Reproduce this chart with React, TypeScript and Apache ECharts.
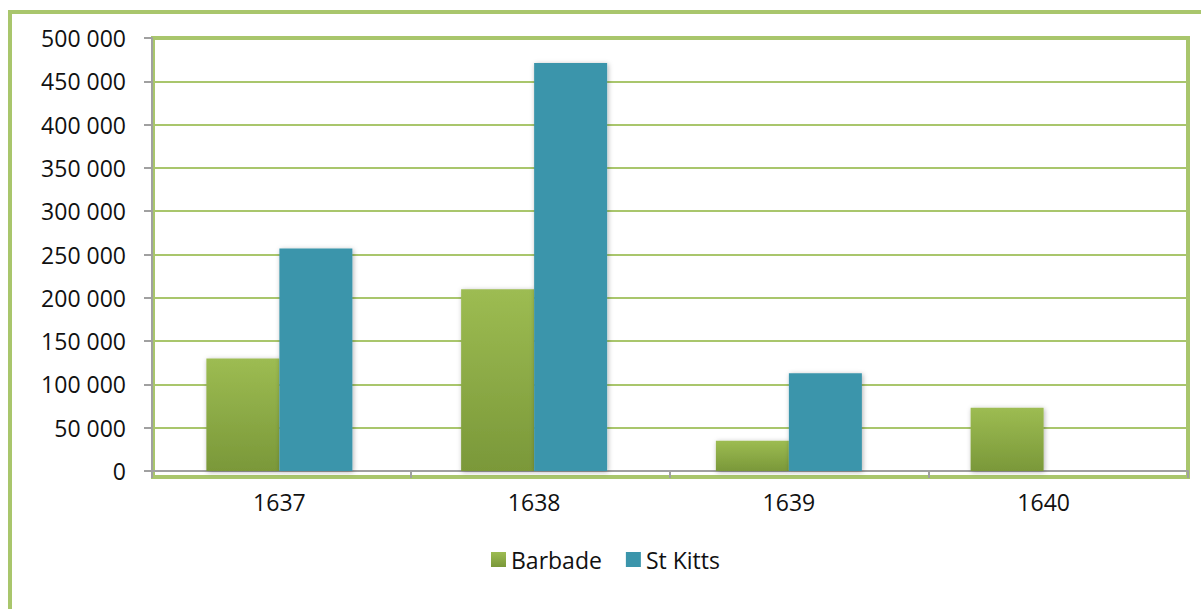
import React, { useEffect, useRef } from "react";
import * as echarts from "echarts";

const categories = ["1637", "1638", "1639", "1640"];
const barbade = [130000, 210000, 35000, 73000];
const stKitts: (number | null)[] = [257000, 471000, 113000, null];
const yMin = 0;
const yMax = 500000;
const yInterval = 50000;

const fmt = (v: number) => String(v).replace(/\B(?=(\d{3})+(?!\d))/g, " ");

export default function App() {
  const ref = useRef<HTMLDivElement>(null);
  useEffect(() => {
    if (!ref.current) return;
    const chart = echarts.init(ref.current, null, { renderer: "svg" });
    const font = "'Open Sans', sans-serif";
    const green = "#A9C66C";
    chart.setOption({
      animation: false,
      backgroundColor: "#ffffff",
      textStyle: { fontFamily: font },
      grid: [
        { left: 152, right: 13, top: 38, bottom: 138 },
        { left: 152, right: 30, top: 38, bottom: 138 },
      ],
      graphic: [
        {
          type: "rect",
          z: -1,
          shape: { x: 10, y: 12, width: 1400, height: 800 },
          style: { fill: "none", stroke: green, lineWidth: 4 },
        },
        {
          type: "rect",
          z: -1,
          shape: { x: 153, y: 38, width: 1035, height: 439 },
          style: { fill: "none", stroke: green, lineWidth: 4 },
        },
      ],
      legend: {
        left: 486,
        top: 543,
        itemWidth: 15,
        itemHeight: 15,
        itemGap: 24,
        icon: "rect",
        textStyle: { fontSize: 23, color: "#111", fontFamily: font },
        data: ["Barbade", "St Kitts"],
      },
      xAxis: [
        {
          type: "category",
          gridIndex: 0,
          data: categories,
          axisLine: { lineStyle: { color: "#a0a0a0", width: 2 } },
          axisTick: { show: true, length: 7, lineStyle: { color: "#a0a0a0", width: 2 } },
          axisLabel: { show: false },
          splitLine: { show: false },
        },
        {
          type: "category",
          gridIndex: 1,
          data: categories,
          axisLine: { show: false },
          axisTick: { show: false },
          axisLabel: { fontSize: 23, color: "#111", margin: 19, fontFamily: font },
          splitLine: { show: false },
        },
      ],
      yAxis: [
        {
          type: "value",
          gridIndex: 0,
          min: yMin,
          max: yMax,
          interval: yInterval,
          axisLine: { show: true, lineStyle: { color: "#a0a0a0", width: 2 } },
          axisTick: { show: true, length: 8, lineStyle: { color: "#a0a0a0", width: 2 } },
          axisLabel: {
            fontSize: 23,
            color: "#111",
            margin: 26,
            fontFamily: font,
            formatter: (v: number) => fmt(v),
          },
          splitLine: { show: true, lineStyle: { color: green, width: 2 } },
        },
        {
          type: "value",
          gridIndex: 1,
          min: yMin,
          max: yMax,
          interval: yInterval,
          show: false,
          splitLine: { show: false },
        },
      ],
      series: [
        {
          name: "Barbade",
          type: "bar",
          xAxisIndex: 1,
          yAxisIndex: 1,
          data: barbade,
          barWidth: 73,
          barGap: "0%",
          itemStyle: {
            color: new echarts.graphic.LinearGradient(0, 0, 0, 1, [
              { offset: 0, color: "#9DBC52" },
              { offset: 1, color: "#7A9839" },
            ]),
            shadowBlur: 5,
            shadowColor: "rgba(0,0,0,0.3)",
            shadowOffsetX: 1,
            shadowOffsetY: 1,
          },
        },
        {
          name: "St Kitts",
          type: "bar",
          xAxisIndex: 1,
          yAxisIndex: 1,
          data: stKitts,
          barWidth: 73,
          barGap: "0%",
          itemStyle: {
            color: "#3B95AB",
            shadowBlur: 5,
            shadowColor: "rgba(0,0,0,0.3)",
            shadowOffsetX: 1,
            shadowOffsetY: 1,
          },
        },
      ],
    });
    return () => chart.dispose();
  }, []);
  return (
    <div
      ref={ref}
      style={{ position: "fixed", left: 0, top: 0, width: 1201, height: 609, background: "#fff" }}
    />
  );
}
